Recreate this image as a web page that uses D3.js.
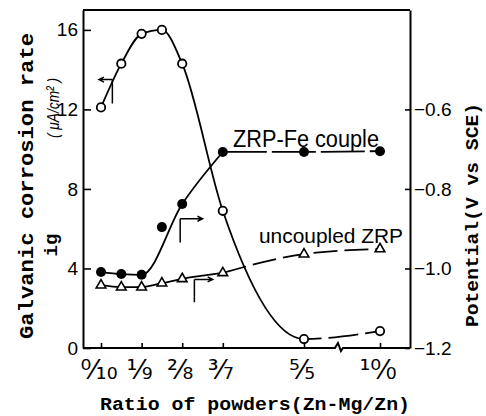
<!DOCTYPE html>
<html>
<head>
<meta charset="utf-8">
<script src="https://cdn.jsdelivr.net/npm/d3@7"></script>
<style>
  body { margin: 0; background: #fff; }
  svg { display: block; }
</style>
</head>
<body>
<div id="chart"></div>
<script>
// ratio of powders, Zn-Mg parts (10/0 sits after the axis break)
var ratios = [0, 0.5, 1, 1.5, 2, 3, 5, 10];
// open circles, left axis (uA/cm2)
var corrosionRate = [12.1, 14.3, 15.8, 16.0, 14.3, 6.9, 0.45, 0.85];
// filled circles, right axis (V vs SCE)
var coupledPotential = [-1.009, -1.014, -1.016, -0.896, -0.838, -0.707, -0.707, -0.705];
// triangles, right axis
var uncoupledPotential = [-1.042, -1.047, -1.047, -1.037, -1.026, -1.011, -0.964, -0.951];

var tickRatios = [0, 1, 2, 3, 5, 10];
var tickNum = ["0", "1", "2", "3", "5", "10"];
var tickDen = ["10", "9", "8", "7", "5", "0"];
var rateTicks = [0, 4, 8, 12, 16];
var potentialTicks = [-1.2, -1.0, -0.8, -0.6];

var W = 486, H = 416;
var margin = {top: 10, right: 76, bottom: 68, left: 83},
    width = W - margin.left - margin.right,
    height = H - margin.top - margin.bottom;

var svg = d3.select('#chart').append('svg')
    .attr('width', W)
    .attr('height', H);
var g = svg.append('g')
    .attr('transform', 'translate(' + margin.left + ',' + margin.top + ')');

var sans = "'Liberation Sans Narrow','Liberation Sans',Arial,sans-serif";
var mono = "'Liberation Mono','DejaVu Sans Mono',monospace";

//scales
var x = d3.scaleLinear().domain([0, 5, 10]).range([18, 221, 297]);
var yRate = d3.scaleLinear().domain([0, 17]).range([height, 0]);
var yPot = d3.scaleLinear().domain([-1.2, -0.35]).range([height, 0]);
var breakAt = 7.3;

var rows = ratios.map(function(r, i) {
  return {r: r, rate: corrosionRate[i], cp: coupledPotential[i], up: uncoupledPotential[i]};
});

//clip regions for the solid / dashed part of the rate curve
var defs = svg.append('defs');
defs.append('clipPath').attr('id', 'solidPart').append('rect')
    .attr('x', -10).attr('y', -10).attr('width', x(5) + 10).attr('height', height + 20);
defs.append('clipPath').attr('id', 'dashPart').append('rect')
    .attr('x', x(5)).attr('y', -10).attr('width', width - x(5)).attr('height', height + 20);

//lines
var rateLine = d3.line().curve(d3.curveMonotoneX)
    .x(function(d) { return x(d.r); }).y(function(d) { return yRate(d.rate); });
var cpLine = d3.line().curve(d3.curveMonotoneX)
    .x(function(d) { return x(d.r); }).y(function(d) { return yPot(d.cp); });
var upLine = d3.line().curve(d3.curveMonotoneX)
    .x(function(d) { return x(d.r); }).y(function(d) { return yPot(d.up); });

function drawLine(d, gen, dash, clip) {
  var p = g.append('path').datum(d)
      .attr('d', gen)
      .attr('fill', 'none')
      .attr('stroke', '#000')
      .attr('stroke-width', 1.8);
  if (dash) p.attr('stroke-dasharray', dash);
  if (clip) p.attr('clip-path', 'url(#' + clip + ')');
}

drawLine(rows, rateLine, null, 'solidPart');
drawLine(rows, rateLine, '30,7', 'dashPart');
drawLine(rows.filter(function(d) { return d.r !== 1.5 && d.r <= 3; }), cpLine, null);
drawLine(rows.filter(function(d) { return d.r >= 3; }), cpLine.curve(d3.curveLinear), '44,5');
drawLine(rows.filter(function(d) { return d.r <= 3; }), upLine, null);
drawLine(rows.filter(function(d) { return d.r >= 3; }), upLine, '24,7');

//markers
g.selectAll('.tri').data(rows).enter().append('path')
    .attr('d', d3.symbol().type(d3.symbolTriangle).size(40))
    .attr('transform', function(d) { return 'translate(' + x(d.r) + ',' + yPot(d.up) + ')'; })
    .attr('fill', '#fff').attr('stroke', '#000').attr('stroke-width', 1.6);
g.selectAll('.fill').data(rows).enter().append('circle')
    .attr('cx', function(d) { return x(d.r); })
    .attr('cy', function(d) { return yPot(d.cp); })
    .attr('r', 5).attr('fill', '#000');
g.selectAll('.open').data(rows).enter().append('circle')
    .attr('cx', function(d) { return x(d.r); })
    .attr('cy', function(d) { return yRate(d.rate); })
    .attr('r', 4.2).attr('fill', '#fff').attr('stroke', '#000').attr('stroke-width', 1.8);

//arrows telling which axis each curve belongs to
var arrows = [
  {r: 0.28, top: 13.5, bottom: 12.3, head: -0.05, dir: -1},
  {r: 1.95, top: 6.5, bottom: 5.3, head: 2.5, dir: 1},
  {r: 2.3, top: 3.45, bottom: 2.3, head: 2.75, dir: 1}
];
arrows.forEach(function(a) {
  var xv = x(a.r), yt = yRate(a.top), yb = yRate(a.bottom), xh = x(a.head);
  g.append('path')
      .attr('d', 'M' + xv + ',' + yt + 'V' + yb + 'M' + xv + ',' + yt + 'H' + xh
        + 'M' + (xh - a.dir * 5) + ',' + (yt - 2.5) + 'L' + xh + ',' + yt + 'L' + (xh - a.dir * 5) + ',' + (yt + 2.5))
      .attr('fill', 'none').attr('stroke', '#000').attr('stroke-width', 1.5);
});

//axes
var leftAxis = g.append('g')
    .call(d3.axisLeft(yRate).tickValues(rateTicks).tickSizeInner(-8).tickSizeOuter(0).tickPadding(5));
var rightAxis = g.append('g')
    .attr('transform', 'translate(' + width + ',0)')
    .call(d3.axisRight(yPot).tickValues(potentialTicks).tickSizeInner(-5).tickSizeOuter(0).tickPadding(4)
      .tickFormat(d3.format('.1f')));
var bottomAxis = g.append('g')
    .attr('transform', 'translate(0,' + height + ')')
    .call(d3.axisBottom(x).tickValues(tickRatios).tickSizeInner(-5).tickSizeOuter(0).tickFormat(''));
bottomAxis.select('.domain').remove();

[leftAxis, rightAxis, bottomAxis].forEach(function(a) {
  a.selectAll('.domain').attr('stroke-width', 2);
  a.selectAll('.tick line').attr('stroke-width', 1.6);
  a.selectAll('.tick text').attr('font-family', sans).attr('font-size', 19).attr('fill', '#000');
});

//frame top and broken bottom axis
g.append('line').attr('x1', 0).attr('x2', width).attr('y1', 0).attr('y2', 0)
    .attr('stroke', '#000').attr('stroke-width', 2);
var xb = x(breakAt);
g.append('path')
    .attr('d', 'M0,' + height + 'H' + (xb - 4) + 'l3,-5l3,8l2,-3H' + width)
    .attr('fill', 'none').attr('stroke', '#000').attr('stroke-width', 2);

//fraction tick labels written with super/subscript digits and a fraction slash
var sup = '⁰¹²³⁴⁵⁶⁷⁸⁹', sub = '₀₁₂₃₄₅₆₇₈₉';
function toSet(s, set) { return s.split('').map(function(c) { return set[+c]; }).join(''); }
g.selectAll('.frac').data(tickRatios).enter().append('text')
    .attr('x', function(d) { return x(d) - 2; })
    .attr('y', height + 31)
    .attr('text-anchor', 'middle')
    .attr('font-family', "'DejaVu Sans',sans-serif")
    .attr('font-size', 27)
    .attr('fill', '#000')
    .text(function(d, i) { return toSet(tickNum[i], sup) + '⁄' + toSet(tickDen[i], sub); });

//curve labels
g.append('text').attr('x', 150).attr('y', 137)
    .attr('font-family', sans).attr('font-size', 23)
    .attr('textLength', 146).attr('lengthAdjust', 'spacingAndGlyphs')
    .text('ZRP-Fe couple');
g.append('text').attr('x', 176).attr('y', 233)
    .attr('font-family', sans).attr('font-size', 21)
    .attr('textLength', 144).attr('lengthAdjust', 'spacingAndGlyphs')
    .text('uncoupled ZRP');

//axis titles
svg.append('text')
    .attr('transform', 'translate(33,186) rotate(-90)')
    .attr('text-anchor', 'middle').attr('font-family', mono).attr('font-weight', 'bold')
    .attr('font-size', 21).attr('textLength', 306).attr('lengthAdjust', 'spacingAndGlyphs')
    .text('Galvanic corrosion rate');
svg.append('text')
    .attr('transform', 'translate(59,108) rotate(-90)')
    .attr('text-anchor', 'middle').attr('font-family', sans).attr('font-style', 'italic')
    .attr('font-size', 17).attr('textLength', 60).attr('lengthAdjust', 'spacingAndGlyphs')
    .text('( μA/cm² )');
svg.append('text')
    .attr('transform', 'translate(57,245) rotate(-90)')
    .attr('text-anchor', 'middle').attr('font-family', mono).attr('font-weight', 'bold')
    .attr('font-size', 19)
    .text('ig');
svg.append('text')
    .attr('transform', 'translate(478,215) rotate(-90)')
    .attr('text-anchor', 'middle').attr('font-family', mono).attr('font-weight', 'bold')
    .attr('font-size', 19).attr('textLength', 224).attr('lengthAdjust', 'spacingAndGlyphs')
    .text('Potential(V vs SCE)');
svg.append('text')
    .attr('x', 100).attr('y', 410)
    .attr('font-family', mono).attr('font-weight', 'bold')
    .attr('font-size', 19).attr('textLength', 310).attr('lengthAdjust', 'spacingAndGlyphs')
    .text('Ratio of powders(Zn-Mg/Zn)');
</script>
</body>
</html>
